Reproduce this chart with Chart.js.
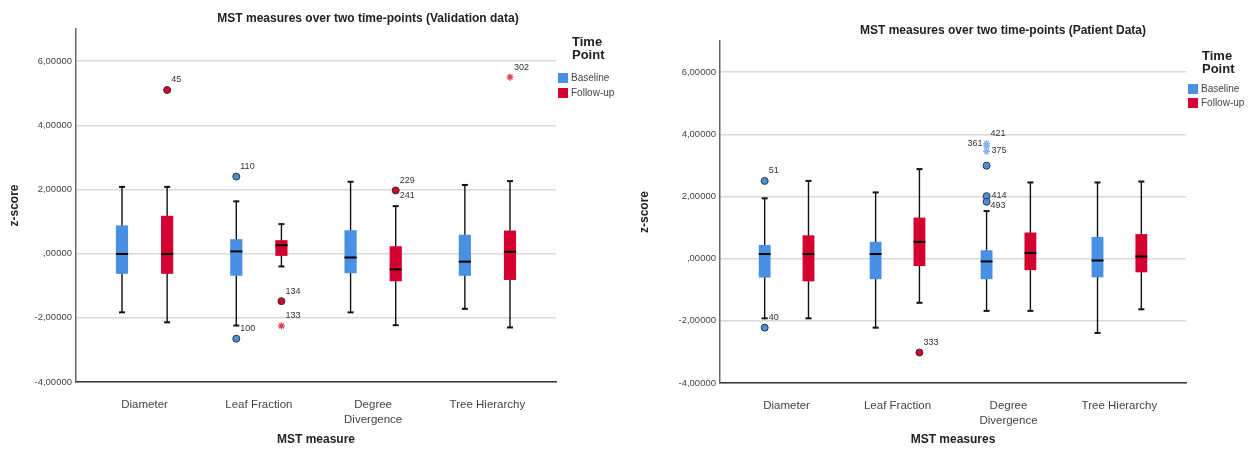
<!DOCTYPE html>
<html>
<head>
<meta charset="utf-8">
<script src="https://cdn.jsdelivr.net/npm/chart.js@4"></script>
<style>
  body { margin: 0; background: #fff; font-family: 'Liberation Sans', Arial, sans-serif; }
  #wrap { position: relative; width: 1254px; height: 452px; }
  .panel { position: absolute; top: 0; }
  .title { position: absolute; width: 440px; text-align: center; font-weight: bold; font-size: 12px; line-height: 14px; color: #222; }
  .legend-title { position: absolute; font-weight: bold; font-size: 13px; line-height: 13px; color: #222; }
  .legend-row { position: absolute; font-size: 10px; line-height: 10px; color: #444; white-space: nowrap; }
  .legend-row span { display: inline-block; width: 10px; height: 10px; vertical-align: top; margin-right: 3px; }
</style>
</head>
<body>
<div id="wrap">
  <div class="panel" style="left:0"><canvas id="valChart" width="630" height="452"></canvas></div>
  <div class="panel" style="left:630px"><canvas id="patChart" width="624" height="452"></canvas></div>

  <div class="title" style="left:148px; top:11px">MST measures over two time-points (Validation data)</div>
  <div class="title" style="left:783px; top:23px">MST measures over two time-points (Patient Data)</div>

  <div class="legend-title" style="left:572px; top:35px">Time<br>Point</div>
  <div class="legend-row" style="left:558px; top:73px"><span style="background:#4a90e2"></span>Baseline</div>
  <div class="legend-row" style="left:558px; top:88px"><span style="background:#d40030"></span>Follow-up</div>

  <div class="legend-title" style="left:1202px; top:49px">Time<br>Point</div>
  <div class="legend-row" style="left:1188px; top:84px"><span style="background:#4a90e2"></span>Baseline</div>
  <div class="legend-row" style="left:1188px; top:98px"><span style="background:#d40030"></span>Follow-up</div>
</div>

<script>
// categories on the x axis
const categories = ['Diameter', 'Leaf Fraction', ['Degree', 'Divergence'], 'Tree Hierarchy'];
const seriesNames = ['Baseline', 'Follow-up'];

// Validation data - box stats per category
const valBaseMin = [-1.83, -2.24, -1.83, -1.72];
const valBaseQ1 = [-0.63, -0.69, -0.61, -0.69];
const valBaseMed = [-0.01, 0.07, -0.12, -0.25];
const valBaseQ3 = [0.88, 0.45, 0.73, 0.59];
const valBaseMax = [2.08, 1.63, 2.24, 2.14];

const valFollowMin = [-2.14, -0.40, -2.23, -2.30];
const valFollowQ1 = [-0.63, -0.07, -0.86, -0.82];
const valFollowMed = [-0.01, 0.26, -0.49, 0.06];
const valFollowQ3 = [1.18, 0.42, 0.23, 0.72];
const valFollowMax = [2.08, 0.92, 1.48, 2.26];

// outliers: [category index, value, case label, kind ('o' circle, '*' extreme, '' hidden)]
const valBaseOutliers = [[1, 2.40, '110', 'o'], [1, -2.65, '100', 'o']];
const valFollowOutliers = [[0, 5.10, '45', 'o'], [1, -1.48, '134', 'o'], [1, -2.25, '133', '*'],
                           [2, 1.97, '229', 'o'], [2, 1.50, '241', ''], [3, 5.50, '302', '*']];

// Patient data - box stats per category
const patBaseMin = [-1.92, -2.22, -1.68, -2.39];
const patBaseQ1 = [-0.61, -0.66, -0.66, -0.60];
const patBaseMed = [0.15, 0.15, -0.09, -0.06];
const patBaseQ3 = [0.44, 0.54, 0.27, 0.70];
const patBaseMax = [1.94, 2.13, 1.53, 2.45];

const patFollowMin = [-1.92, -1.42, -1.68, -1.63];
const patFollowQ1 = [-0.73, -0.24, -0.37, -0.44];
const patFollowMed = [0.15, 0.54, 0.18, 0.07];
const patFollowQ3 = [0.75, 1.32, 0.84, 0.79];
const patFollowMax = [2.50, 2.88, 2.45, 2.48];

const patBaseOutliers = [[0, 2.50, '51', 'o'], [0, -2.22, '40', 'o'], [2, 3.70, '421', '*'], [2, 3.62, '361', '*'],
                         [2, 3.45, '375', '*'], [2, 2.99, '', 'o'], [2, 2.01, '414', 'o'], [2, 1.83, '493', 'o']];
const patFollowOutliers = [[1, -3.02, '333', 'o']];

// y axis ticks
const yTicks = [-4, -2, 0, 2, 4, 6];

// where a case label sits when not up-right of its point
const labelSide = { '361': 'w', '375': 'e', '414': 'e', '493': 'se' };

const colors = ['#4a90e2', '#d40030'];
const starColors = ['#7fb2ee', '#e0405c'];
const GROUP = 0.79; // categoryPercentage, also used to place outliers next to their box

Chart.defaults.font.family = "'Liberation Sans', Arial, sans-serif";

// SPSS style number format: 6,00000 / ,00000 / -2,00000
function spssNumber(v) {
    let s = v.toFixed(5).replace('.', ',');
    if (s.startsWith('0,')) s = s.substring(1);
    return s;
}

// draws whiskers under the boxes, medians and case labels on top
const boxPlotParts = {
    id: 'boxPlotParts',
    beforeDatasetsDraw(chart) {
        const ctx = chart.ctx;
        const y = chart.scales.y;
        chart.data.datasets.forEach((ds, di) => {
            if (!ds.whiskerMin) return;
            const meta = chart.getDatasetMeta(di);
            meta.data.forEach((bar, i) => {
                ctx.save();
                ctx.strokeStyle = '#111';
                ctx.lineWidth = 1.4;
                ctx.beginPath();
                ctx.moveTo(bar.x, y.getPixelForValue(ds.whiskerMax[i]));
                ctx.lineTo(bar.x, y.getPixelForValue(ds.whiskerMin[i]));
                ctx.stroke();
                ctx.lineWidth = 2;
                [ds.whiskerMax[i], ds.whiskerMin[i]].forEach(v => {
                    const py = y.getPixelForValue(v);
                    ctx.beginPath();
                    ctx.moveTo(bar.x - 3, py);
                    ctx.lineTo(bar.x + 3, py);
                    ctx.stroke();
                });
                ctx.restore();
            });
        });
    },
    afterDatasetsDraw(chart) {
        const ctx = chart.ctx;
        const y = chart.scales.y;
        chart.data.datasets.forEach((ds, di) => {
            const meta = chart.getDatasetMeta(di);
            if (ds.medians) {
                meta.data.forEach((bar, i) => {
                    const py = y.getPixelForValue(ds.medians[i]);
                    ctx.save();
                    ctx.strokeStyle = '#000';
                    ctx.lineWidth = 2;
                    ctx.beginPath();
                    ctx.moveTo(bar.x - bar.width / 2, py);
                    ctx.lineTo(bar.x + bar.width / 2, py);
                    ctx.stroke();
                    ctx.restore();
                });
            }
            if (ds.caseLabels) {
                ctx.save();
                ctx.font = "9px 'Liberation Sans', Arial, sans-serif";
                ctx.fillStyle = '#333';
                ctx.textBaseline = 'middle';
                meta.data.forEach((pt, i) => {
                    const text = ds.caseLabels[i];
                    if (!text) return;
                    const side = labelSide[text] || 'ne';
                    ctx.textAlign = side === 'w' ? 'right' : 'left';
                    if (side === 'w') ctx.fillText(text, pt.x - 4, pt.y - 3);
                    else if (side === 'e') ctx.fillText(text, pt.x + 5, pt.y - 1);
                    else if (side === 'se') ctx.fillText(text, pt.x + 4, pt.y + 4);
                    else ctx.fillText(text, pt.x + 4, pt.y - 10);
                });
                ctx.restore();
            }
        });
    }
};

function boxDataset(s, min, q1, med, q3, max) {
    return {
        label: seriesNames[s],
        data: q1.map((v, i) => ({ x: i + 1, y: [v, q3[i]] })),
        backgroundColor: colors[s],
        borderWidth: 0,
        borderSkipped: false,
        categoryPercentage: GROUP,
        barPercentage: 0.27,
        whiskerMin: min,
        whiskerMax: max,
        medians: med
    };
}

function outlierDataset(s, list) {
    const shift = (s === 0 ? -1 : 1) * GROUP / 4;
    return {
        type: 'scatter',
        label: seriesNames[s] + ' outliers',
        data: list.map(o => ({ x: o[0] + 1 + shift, y: o[1] })),
        caseLabels: list.map(o => o[2]),
        pointStyle: list.map(o => o[3] === '*' ? 'star' : 'circle'),
        pointRadius: list.map(o => o[3] === '' ? 0 : (o[3] === '*' ? 3.5 : 3.5)),
        backgroundColor: colors[s],
        borderColor: list.map(o => o[3] === '*' ? starColors[s] : '#333'),
        borderWidth: list.map(o => o[3] === '*' ? 1.3 : 1)
    };
}

function makeChart(canvasId, boxes, outliers, yWidth, xHeight, pad) {
    const ctx = document.getElementById(canvasId).getContext('2d');
    return new Chart(ctx, {
        type: 'bar',
        data: { datasets: boxes.concat(outliers) },
        plugins: [boxPlotParts],
        options: {
            responsive: false,
            animation: false,
            layout: { padding: pad },
            plugins: { legend: { display: false }, tooltip: { enabled: false } },
            scales: {
                x: {
                    type: 'linear',
                    min: 0.4,
                    max: 4.6,
                    offset: false,
                    grid: { display: false, offset: false },
                    border: { color: '#333', width: 1.5 },
                    afterBuildTicks: scale => { scale.ticks = categories.map((c, i) => ({ value: i + 1 })); },
                    afterFit: scale => { scale.height = xHeight; },
                    ticks: {
                        autoSkip: false,
                        maxRotation: 0,
                        padding: 7,
                        color: '#444',
                        font: { size: 11.5, lineHeight: 1.3 },
                        callback: value => categories[value - 1]
                    },
                    title: { display: true, text: canvasId === 'valChart' ? 'MST measure' : 'MST measures',
                             color: '#222', font: { size: 12, weight: 'bold' }, padding: { bottom: 5 } }
                },
                y: {
                    min: -4,
                    max: 7,
                    afterBuildTicks: scale => { scale.ticks = yTicks.map(v => ({ value: v })); },
                    afterFit: scale => { scale.width = yWidth; },
                    grid: { color: '#d9d9d9', lineWidth: 1.5, drawTicks: false },
                    border: { color: '#666', width: 1.5 },
                    ticks: { padding: 4, color: '#444', font: { size: 9.5 }, callback: v => spssNumber(v) },
                    title: { display: true, text: 'z-score', color: '#222', font: { size: 12, weight: 'bold' }, padding: { top: 7 } }
                }
            }
        }
    });
}

document.addEventListener('DOMContentLoaded', function () {
    makeChart('valChart',
        [boxDataset(0, valBaseMin, valBaseQ1, valBaseMed, valBaseQ3, valBaseMax),
         boxDataset(1, valFollowMin, valFollowQ1, valFollowMed, valFollowQ3, valFollowMax)],
        [outlierDataset(0, valBaseOutliers), outlierDataset(1, valFollowOutliers)],
        76, 70, { top: 29, right: 74, left: 0, bottom: 0 });

    makeChart('patChart',
        [boxDataset(0, patBaseMin, patBaseQ1, patBaseMed, patBaseQ3, patBaseMax),
         boxDataset(1, patFollowMin, patFollowQ1, patFollowMed, patFollowQ3, patFollowMax)],
        [outlierDataset(0, patBaseOutliers), outlierDataset(1, patFollowOutliers)],
        90, 69, { top: 41, right: 68, left: 0, bottom: 0 });
});
</script>
</body>
</html>
